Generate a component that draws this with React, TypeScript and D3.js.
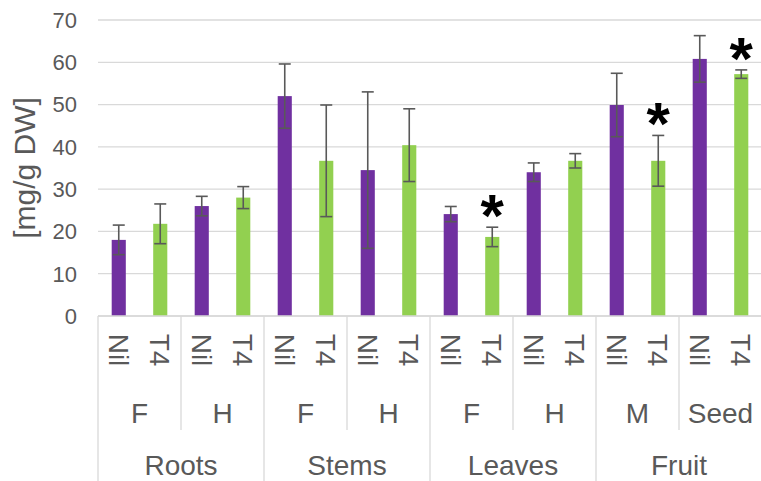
import React from "react";
import * as d3 from "d3";

// organ groups, sub groups and treatments along the x axis
const organs = ["Roots", "Stems", "Leaves", "Fruit"];
const stages = ["F", "H", "F", "H", "F", "H", "M", "Seed"];
const treatments = ["Nil", "T4"];

// means and error (+/-) per bar, in axis order
const means = [18, 21.8, 26, 28, 52, 36.7, 34.5, 40.4, 24.1, 18.7, 34, 36.7, 49.9, 36.7, 60.8, 57.2];
const errors = [3.5, 4.7, 2.3, 2.6, 7.6, 13.2, 18.5, 8.6, 1.8, 2.3, 2.2, 1.7, 7.5, 6, 5.5, 1];
const significant = [false, false, false, false, false, false, false, false, false, true, false, false, false, true, false, true];

const yTicks = [0, 10, 20, 30, 40, 50, 60, 70];

const W = 761;
const H = 481;
const left = 98;
const right = 762;
const top = 20;
const bottom = 316;

const textColor = "#595959";
const lineColor = "#D9D9D9";
const font = "'Liberation Sans', Arial, sans-serif";

export default function App()
{
    const bars = d3.range(means.length);

    const x = d3.scaleBand<number>()
        .domain(bars)
        .range([left, right])
        .paddingInner(0.66)
        .paddingOuter(0.33);

    const step = x.step();
    const y = d3.scaleLinear().domain([0, 70]).range([bottom, top]);

    const cx = (i: number) => (x(i) as number) + x.bandwidth() / 2;
    const edge = (i: number) => left + i * step; // left edge of a category slot

    return (
        <svg width={W} height={H} style={{position: "absolute", left: 0, top: 0}} fontFamily={font}>
            {/* grid */}
            {yTicks.map((t) => (
                <line key={t} x1={left} x2={W} y1={y(t)} y2={y(t)} stroke={lineColor} strokeWidth={1.3}/>
            ))}
            {yTicks.map((t) => (
                <text key={"t" + t} x={77} y={y(t)} dy="0.36em" textAnchor="end" fontSize={22} fill={textColor}>{t}</text>
            ))}

            <text transform={`translate(35, 168) rotate(-90)`} textAnchor="middle" fontSize={30} fill={textColor}>[mg/g DW]</text>

            {/* bars */}
            {bars.map((i) => (
                <rect key={"b" + i} x={x(i)} y={y(means[i])} width={x.bandwidth()} height={y(0) - y(means[i])}
                      fill={i % 2 === 0 ? "#7030A0" : "#92D050"}/>
            ))}

            {/* error bars */}
            {bars.map((i) => {
                const hi = y(means[i] + errors[i]);
                const lo = y(means[i] - errors[i]);
                const c = cx(i);
                return (
                    <g key={"e" + i} stroke="#595959" strokeWidth={1.6}>
                        <line x1={c} x2={c} y1={hi} y2={lo}/>
                        <line x1={c - 6} x2={c + 6} y1={hi} y2={hi}/>
                        <line x1={c - 6} x2={c + 6} y1={lo} y2={lo}/>
                    </g>
                );
            })}

            {bars.filter((i) => significant[i]).map((i) => (
                <text key={"s" + i} x={cx(i)} y={y(means[i] + errors[i]) + 9} textAnchor="middle"
                      fontSize={60} fontWeight="bold" fill="#000">*</text>
            ))}

            {/* category axis */}
            <line x1={left} x2={W} y1={bottom} y2={bottom} stroke={lineColor} strokeWidth={1.3}/>
            {d3.range(0, stages.length + 1).map((k) => (
                <line key={"v" + k} x1={edge(k * 2)} x2={edge(k * 2)} y1={bottom} y2={k % 2 === 0 ? H : 430}
                      stroke={lineColor} strokeWidth={1.3}/>
            ))}

            {bars.map((i) => (
                <text key={"n" + i} transform={`translate(${cx(i)}, 350) rotate(90)`} textAnchor="middle" dy="0.36em"
                      fontSize={28} fill={textColor}>{treatments[i % 2]}</text>
            ))}

            {stages.map((s, k) => (
                <text key={"g" + k} x={edge(k * 2) + step} y={423} textAnchor="middle" fontSize={28} fill={textColor}>{s}</text>
            ))}

            {organs.map((o, k) => (
                <text key={"o" + k} x={edge(k * 4) + 2 * step} y={475} textAnchor="middle" fontSize={28} fill={textColor}>{o}</text>
            ))}
        </svg>
    );
}
